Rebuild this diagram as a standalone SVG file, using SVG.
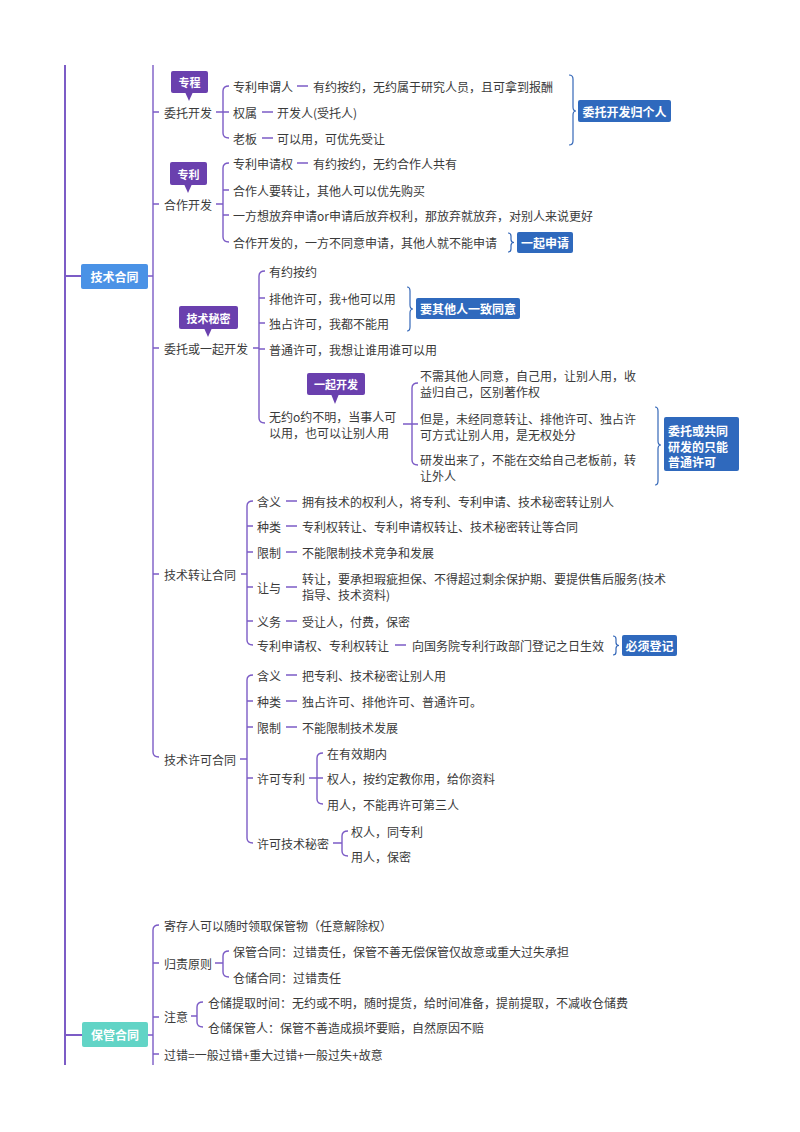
<svg xmlns="http://www.w3.org/2000/svg" width="800" height="1132" viewBox="0 0 800 1132">
<style>
.t{font-family:"Noto Sans CJK SC","Noto Sans",sans-serif;font-size:12px;fill:#3a3a3a;dominant-baseline:central}
.w{font-family:"Noto Sans CJK SC","Noto Sans",sans-serif;font-size:12px;fill:#fff;font-weight:bold;dominant-baseline:central}
.c{font-size:11px}
.m{text-anchor:middle}
.ln{fill:none;stroke:#7c5cc6;stroke-width:1.4}
.br{fill:none;stroke:#3568b8;stroke-width:1.2}
.cal{fill:#6a40ae}
.box{fill:#2f69bd}
</style>
<rect width="800" height="1132" fill="#fff"/>
<g id="connectors">
<path class="ln" style="stroke-width:2" d="M65 65 V1065 M65 276 H81 M65 1035 H82"/>
<path class="ln" d="M148 276 H153 M153 65 V752 Q153 757 159 757 M153 112 H159 M153 204 H159 M153 348 H159 M153 574 H159"/>
<path class="ln" d="M216 112 H223 M229 86 Q223 86 223 91 V133 Q223 138 229 138 M223 112 H229"/>
<path class="ln" d="M297 86 H308 M262 112 H273 M262 138 H273 M297 163 H308"/>
<path class="ln" d="M216 204 H223 M229 163 Q223 163 223 168 V237 Q223 242 229 242 M223 190 H229 M223 215 H229"/>
<path class="ln" d="M253 348 H259 M265 271 Q259 271 259 276 V418 Q259 423 265 423 M259 298 H265 M259 323 H265 M259 349 H265"/>
<path class="ln" d="M403 424 H412 M418 383 Q412 383 412 388 V460 Q412 465 418 465 M412 424 H418"/>
<path class="ln" d="M241 574 H247 M253 501 Q247 501 247 506 V640 Q247 645 253 645 M247 526 H253 M247 552 H253 M247 587 H253 M247 621 H253"/>
<path class="ln" d="M286 501 H297 M286 526 H297 M286 552 H297 M286 587 H297 M286 621 H297 M395 645 H406"/>
<path class="ln" d="M240 759 H247 M253 675 Q247 675 247 680 V838 Q247 843 253 843 M247 701 H253 M247 727 H253 M247 778 H253"/>
<path class="ln" d="M286 675 H297 M286 701 H297 M286 727 H297"/>
<path class="ln" d="M309 778 H317 M323 753 Q317 753 317 758 V799 Q317 804 323 804 M317 778 H323"/>
<path class="ln" d="M333 843 H342 M348 831 Q342 831 342 836 V851 Q342 856 348 856"/>
<path class="ln" d="M148 1035 H153 M159 925 Q153 925 153 930 V1065 M153 963 H159 M153 1017 H159 M153 1054 H159"/>
<path class="ln" d="M215 963 H223 M229 951 Q223 951 223 956 V972 Q223 977 229 977"/>
<path class="ln" d="M191 1016 H197 M203 1002 Q197 1002 197 1007 V1022 Q197 1027 203 1027"/>
<path class="br" d="M569 75 Q573 75 573 79 V107 Q573 111 576 111 Q573 111 573 115 V141 Q573 145 569 145"/>
<path class="br" d="M508 233 Q511 233 511 236 V239.5 Q511 242.5 514 242.5 Q511 242.5 511 245.5 V249 Q511 252 508 252"/>
<path class="br" d="M407 287 Q410 287 410 291 V305 Q410 309 413 309 Q410 309 410 313 V327 Q410 331 407 331"/>
<path class="br" d="M655 407 Q658 407 658 411 V441 Q658 445 661 445 Q658 445 658 449 V481 Q658 485 655 485"/>
<path class="br" d="M613 636 Q616 636 616 639 V642.5 Q616 645.5 619 645.5 Q616 645.5 616 648.5 V652 Q616 655 613 655"/>
</g>
<g id="root-jishu">
<rect x="81" y="264" width="67" height="25" rx="2" fill="#4a92e6"/>
<text class="w m" x="114.5" y="276.5">技术合同</text>
</g>
<g id="root-baoguan">
<rect x="82" y="1022" width="66" height="25" rx="2" fill="#62d4c6"/>
<text class="w m" x="115" y="1034.5">保管合同</text>
</g>
<g id="weituo">
<text class="t" x="164" y="112">委托开发</text>
<rect class="cal" x="171" y="71" width="37" height="22" rx="2"/>
<polygon class="cal" points="185,92 193,92 189,101"/>
<text class="w c m" x="189.5" y="82">专程</text>
</g>
<g id="weituo-children">
<text class="t" x="233" y="86">专利申谓人</text>
<text class="t" x="313" y="86">有约按约，无约属于研究人员，且可拿到报酬</text>
<text class="t" x="233" y="112">权属</text>
<text class="t" x="277" y="112">开发人(受托人)</text>
<text class="t" x="233" y="138">老板</text>
<text class="t" x="277" y="138">可以用，可优先受让</text>
</g>
<g id="sum-weituo">
<rect class="box" x="578" y="100" width="93" height="22" rx="2"/>
<text class="w m" x="624.5" y="111">委托开发归个人</text>
</g>
<g id="hezuo">
<text class="t" x="164" y="204">合作开发</text>
<rect class="cal" x="170" y="162" width="37" height="23" rx="2"/>
<polygon class="cal" points="184,184 192,184 188,193"/>
<text class="w c m" x="188.5" y="173.5">专利</text>
</g>
<g id="hezuo-children">
<text class="t" x="233" y="163">专利申请权</text>
<text class="t" x="313" y="163">有约按约，无约合作人共有</text>
<text class="t" x="233" y="190">合作人要转让，其他人可以优先购买</text>
<text class="t" x="233" y="215">一方想放弃申请or申请后放弃权利，那放弃就放弃，对别人来说更好</text>
<text class="t" x="233" y="242">合作开发的，一方不同意申请，其他人就不能申请</text>
</g>
<g id="sum-yiqi">
<rect class="box" x="517" y="232" width="56" height="21" rx="2"/>
<text class="w m" x="545" y="242.5">一起申请</text>
</g>
<g id="mimi">
<text class="t" x="164" y="348">委托或一起开发</text>
<rect class="cal" x="179" y="306" width="59" height="23" rx="2"/>
<polygon class="cal" points="204,328 212,328 208,337"/>
<text class="w c m" x="208.5" y="317.5">技术秘密</text>
</g>
<g id="mimi-children">
<text class="t" x="269" y="271">有约按约</text>
<text class="t" x="269" y="298">排他许可，我+他可以用</text>
<text class="t" x="269" y="323">独占许可，我都不能用</text>
<text class="t" x="269" y="349">普通许可，我想让谁用谁可以用</text>
</g>
<g id="sum-tongyi">
<rect class="box" x="416" y="298" width="104" height="21" rx="2"/>
<text class="w m" x="468" y="308.5">要其他人一致同意</text>
</g>
<g id="wuyue">
<text class="t" x="269" y="416">无约o约不明，当事人可</text>
<text class="t" x="269" y="432">以用，也可以让别人用</text>
<rect class="cal" x="307" y="373" width="58" height="22" rx="2"/>
<polygon class="cal" points="331,394 339,394 335,404"/>
<text class="w c m" x="336" y="384">一起开发</text>
</g>
<g id="wuyue-children">
<text class="t" x="420" y="375">不需其他人同意，自己用，让别人用，收</text>
<text class="t" x="420" y="391">益归自己，区别著作权</text>
<text class="t" x="420" y="418">但是，未经同意转让、排他许可、独占许</text>
<text class="t" x="420" y="434">可方式让别人用，是无权处分</text>
<text class="t" x="420" y="459">研发出来了，不能在交给自己老板前，转</text>
<text class="t" x="420" y="475">让外人</text>
</g>
<g id="sum-putong">
<rect class="box" x="664" y="417" width="75" height="54" rx="2"/>
<text class="w" x="668" y="430">委托或共同</text>
<text class="w" x="668" y="446">研发的只能</text>
<text class="w" x="668" y="461">普通许可</text>
</g>
<g id="zhuanrang">
<text class="t" x="164" y="574">技术转让合同</text>
</g>
<g id="zhuanrang-children">
<text class="t" x="257" y="501">含义</text>
<text class="t" x="302" y="501">拥有技术的权利人，将专利、专利申请、技术秘密转让别人</text>
<text class="t" x="257" y="526">种类</text>
<text class="t" x="302" y="526">专利权转让、专利申请权转让、技术秘密转让等合同</text>
<text class="t" x="257" y="552">限制</text>
<text class="t" x="302" y="552">不能限制技术竞争和发展</text>
<text class="t" x="257" y="587">让与</text>
<text class="t" x="302" y="578">转让，要承担瑕疵担保、不得超过剩余保护期、要提供售后服务(技术</text>
<text class="t" x="302" y="594">指导、技术资料)</text>
<text class="t" x="257" y="621">义务</text>
<text class="t" x="302" y="621">受让人，付费，保密</text>
<text class="t" x="257" y="645">专利申请权、专利权转让</text>
<text class="t" x="412" y="645">向国务院专利行政部门登记之日生效</text>
</g>
<g id="sum-dengji">
<rect class="box" x="622" y="635" width="55" height="21" rx="2"/>
<text class="w m" x="649.5" y="645.5">必须登记</text>
</g>
<g id="xuke">
<text class="t" x="164" y="759">技术许可合同</text>
</g>
<g id="xuke-children">
<text class="t" x="257" y="675">含义</text>
<text class="t" x="302" y="675">把专利、技术秘密让别人用</text>
<text class="t" x="257" y="701">种类</text>
<text class="t" x="302" y="701">独占许可、排他许可、普通许可。</text>
<text class="t" x="257" y="727">限制</text>
<text class="t" x="302" y="727">不能限制技术发展</text>
<text class="t" x="257" y="778">许可专利</text>
<text class="t" x="327" y="753">在有效期内</text>
<text class="t" x="327" y="778">权人，按约定教你用，给你资料</text>
<text class="t" x="327" y="804">用人，不能再许可第三人</text>
<text class="t" x="257" y="843">许可技术秘密</text>
<text class="t" x="351" y="831">权人，同专利</text>
<text class="t" x="351" y="856">用人，保密</text>
</g>
<g id="baoguan-children">
<text class="t" x="164" y="925">寄存人可以随时领取保管物（任意解除权）</text>
<text class="t" x="164" y="963">归责原则</text>
<text class="t" x="233" y="951">保管合同：过错责任，保管不善无偿保管仅故意或重大过失承担</text>
<text class="t" x="233" y="977">仓储合同：过错责任</text>
<text class="t" x="164" y="1016">注意</text>
<text class="t" x="208" y="1002">仓储提取时间：无约或不明，随时提货，给时间准备，提前提取，不减收仓储费</text>
<text class="t" x="208" y="1027">仓储保管人：保管不善造成损坏要赔，自然原因不赔</text>
<text class="t" x="164" y="1054">过错=一般过错+重大过错+一般过失+故意</text>
</g>
</svg>
